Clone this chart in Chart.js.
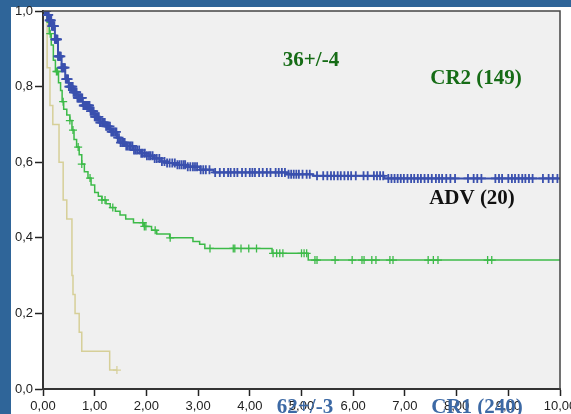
<!DOCTYPE html>
<html>
<head>
<meta charset="utf-8">
<script src="https://cdn.jsdelivr.net/npm/chart.js@4"></script>
<style>
  html, body { margin: 0; padding: 0; background: #fff; }
  #wrap { width: 571px; height: 414px; }
</style>
</head>
<body>
<div id="wrap"><canvas id="km" width="571" height="414"></canvas></div>
<script>
// x ticks (years) and y ticks
var xTicks = [0, 1, 2, 3, 4, 5, 6, 7, 8, 9, 10];
var yTicks = [0, 0.2, 0.4, 0.6, 0.8, 1.0];

// CR1 (240) - step points
var cr1Times = [0, 0.08, 0.12, 0.17, 0.23, 0.29, 0.36, 0.43, 0.5, 0.58, 0.66, 0.77, 0.91, 1.0, 1.1, 1.2, 1.3, 1.43, 1.5, 1.6, 1.74, 1.88, 2.0, 2.13, 2.26, 2.4, 2.6, 2.8, 3.04, 3.3, 4.72, 5.22, 6.6, 10];
var cr1Surv  = [1.0, 0.99, 0.975, 0.96, 0.925, 0.88, 0.85, 0.82, 0.8, 0.785, 0.77, 0.75, 0.735, 0.72, 0.705, 0.695, 0.68, 0.665, 0.652, 0.643, 0.632, 0.624, 0.617, 0.61, 0.602, 0.598, 0.593, 0.588, 0.58, 0.573, 0.568, 0.564, 0.557, 0.557];
var cr1Censored = [0.04, 0.05, 0.06, 0.07, 0.08, 0.09, 0.1, 0.11, 0.12, 0.13, 0.14, 0.15, 0.16, 0.17, 0.18, 0.19, 0.2, 0.21, 0.22, 0.23, 0.24, 0.25, 0.26, 0.27, 0.28, 0.29, 0.3, 0.31, 0.32, 0.33, 0.345, 0.36, 0.37, 0.38, 0.395, 0.41, 0.425, 0.44, 0.455, 0.47, 0.485, 0.5, 0.515, 0.53, 0.545, 0.56, 0.575, 0.59, 0.605, 0.62, 0.635, 0.65, 0.665, 0.68, 0.695, 0.71, 0.725, 0.74, 0.76, 0.78, 0.795, 0.81, 0.83, 0.85, 0.865, 0.88, 0.9, 0.92, 0.94, 0.96, 0.98, 1.0, 1.02, 1.04, 1.06, 1.08, 1.1, 1.12, 1.145, 1.17, 1.195, 1.22, 1.245, 1.27, 1.295, 1.32, 1.345, 1.37, 1.395, 1.42, 1.445, 1.47, 1.5, 1.53, 1.555, 1.58, 1.61, 1.64, 1.67, 1.7, 1.73, 1.76, 1.79, 1.82, 1.86, 1.9, 1.93, 1.97, 2.01, 2.05, 2.08, 2.12, 2.16, 2.2, 2.25, 2.3, 2.35, 2.4, 2.45, 2.5, 2.55, 2.6, 2.64, 2.68, 2.72, 2.75, 2.8, 2.85, 2.9, 2.94, 2.98,
  3.05, 3.1, 3.15, 3.22, 3.33, 3.42, 3.5, 3.58, 3.63, 3.7, 3.76, 3.85, 3.92, 4.0, 4.05, 4.1, 4.18, 4.25, 4.33, 4.4, 4.5, 4.56, 4.62, 4.68, 4.75, 4.8, 4.85, 4.9, 4.95, 5.02, 5.1, 5.16, 5.3, 5.42, 5.5, 5.57, 5.63, 5.7, 5.76, 5.83, 5.9, 5.96, 6.05, 6.2, 6.28, 6.4, 6.46, 6.52, 6.58, 6.68, 6.74, 6.8, 6.86, 6.92, 6.98, 7.05, 7.12, 7.18, 7.25, 7.31, 7.38, 7.45, 7.52, 7.6, 7.66, 7.72, 7.8, 7.88, 7.97, 8.22, 8.33, 8.4, 8.48, 8.75, 8.82, 8.88, 9.0, 9.07, 9.13, 9.2, 9.27, 9.33, 9.4, 9.47, 9.67, 9.78, 9.86, 9.95];

// CR2 (149)
var cr2Times = [0, 0.04, 0.08, 0.12, 0.16, 0.2, 0.24, 0.3, 0.34, 0.37, 0.4, 0.46, 0.52, 0.56, 0.6, 0.65, 0.7, 0.75, 0.8, 0.87, 0.93, 1.0, 1.07, 1.14, 1.22, 1.3, 1.4, 1.49, 1.6, 1.75, 1.95, 2.1, 2.2, 2.45, 2.9, 3.03, 3.13, 4.43, 5.13, 10];
var cr2Surv  = [1.0, 0.99, 0.97, 0.94, 0.91, 0.87, 0.84, 0.81, 0.79, 0.76, 0.74, 0.725, 0.71, 0.685, 0.66, 0.64, 0.62, 0.595, 0.575, 0.558, 0.54, 0.52, 0.51, 0.5, 0.49, 0.48, 0.47, 0.46, 0.45, 0.44, 0.43, 0.42, 0.41, 0.4, 0.39, 0.383, 0.372, 0.359, 0.341, 0.341];
var cr2Censored = [0.14, 0.26, 0.28, 0.39, 0.52, 0.58, 0.68, 0.75, 0.91, 1.14, 1.2, 1.35, 1.93, 1.96, 1.99, 2.17, 2.46, 3.23, 3.68, 3.71, 3.83, 3.98, 4.13, 4.45, 4.52, 4.58, 4.64, 5.0, 5.05, 5.1, 5.26, 5.3, 5.65, 5.98, 6.17, 6.21, 6.36, 6.44, 6.71, 6.77, 7.45, 7.55, 7.64, 8.6, 8.68];

// ADV (20)
var advTimes = [0, 0.08, 0.135, 0.19, 0.31, 0.39, 0.46, 0.56, 0.58, 0.62, 0.7, 0.75, 1.29, 1.43];
var advSurv  = [1.0, 0.85, 0.75, 0.7, 0.6, 0.5, 0.45, 0.3, 0.25, 0.2, 0.15, 0.1, 0.05, 0.05];
var advCensored = [1.43];

var blue = "#3a50ae";
var green = "#3cba48";
var tan = "#d6cf98";

function toPoints(times, surv) {
    var pts = [];
    for (var i = 0; i < times.length; i++) {
        pts.push({ x: times[i], y: surv[i] });
    }
    return pts;
}

// censor marks sit on the step curve at their time
function censorPoints(cens, times, surv) {
    var pts = [];
    for (var i = 0; i < cens.length; i++) {
        var s = surv[0];
        for (var j = 0; j < times.length; j++) {
            if (times[j] <= cens[i]) s = surv[j];
        }
        pts.push({ x: cens[i], y: s });
    }
    return pts;
}

function comma(v, d) {
    return v.toFixed(d).replace(".", ",");
}

var frame = {
    id: "frame",
    beforeDraw: function(chart) {
        var ctx = chart.ctx;
        var a = chart.chartArea;
        ctx.save();
        ctx.fillStyle = "#ffffff";
        ctx.fillRect(0, 0, chart.width, chart.height);
        ctx.fillStyle = "#2f6599";
        ctx.fillRect(0, 0, 11, chart.height);
        ctx.fillRect(0, 0, chart.width, 7);
        ctx.fillStyle = "#f0f0f0";
        ctx.fillRect(a.left, a.top, a.right - a.left, a.bottom - a.top);
        ctx.restore();
    },
    afterDraw: function(chart) {
        var ctx = chart.ctx;
        var a = chart.chartArea;
        ctx.save();
        ctx.strokeStyle = "#444";
        ctx.lineWidth = 1.5;
        ctx.beginPath();
        ctx.moveTo(a.left, a.top);
        ctx.lineTo(a.right, a.top);
        ctx.lineTo(a.right, a.bottom);
        ctx.stroke();

        ctx.font = "bold 21px 'Liberation Serif'";
        ctx.textAlign = "center";
        ctx.textBaseline = "alphabetic";
        ctx.fillStyle = "#166c16";
        ctx.fillText("36+/-4", 311, 66);
        ctx.fillText("CR2 (149)", 476, 84);
        ctx.fillStyle = "#111";
        ctx.fillText("ADV (20)", 472, 204);
        ctx.fillStyle = "#3c69a5";
        ctx.fillText("62+/-3", 305, 413);
        ctx.fillText("CR1 (240)", 477, 413);
        ctx.restore();
    }
};

var ctx = document.getElementById("km").getContext("2d");
new Chart(ctx, {
    type: "line",
    data: {
        datasets: [
            {
                data: toPoints(cr1Times, cr1Surv),
                borderColor: blue, borderWidth: 2, stepped: true,
                pointRadius: 0, fill: false
            },
            {
                data: censorPoints(cr1Censored, cr1Times, cr1Surv),
                showLine: false, pointStyle: "cross", pointRadius: 4.5,
                pointBorderWidth: 1.8, borderColor: blue, pointBorderColor: blue
            },
            {
                data: toPoints(cr2Times, cr2Surv),
                borderColor: green, borderWidth: 1.5, stepped: true,
                pointRadius: 0, fill: false
            },
            {
                data: censorPoints(cr2Censored, cr2Times, cr2Surv),
                showLine: false, pointStyle: "cross", pointRadius: 4,
                pointBorderWidth: 1.3, borderColor: green, pointBorderColor: green
            },
            {
                data: toPoints(advTimes, advSurv),
                borderColor: tan, borderWidth: 1.5, stepped: true,
                pointRadius: 0, fill: false
            },
            {
                data: censorPoints(advCensored, advTimes, advSurv),
                showLine: false, pointStyle: "cross", pointRadius: 4,
                pointBorderWidth: 1.2, borderColor: tan, pointBorderColor: tan
            }
        ]
    },
    options: {
        responsive: false,
        animation: false,
        layout: { padding: { left: 11, top: 11, right: 11, bottom: 0 } },
        plugins: { legend: { display: false }, tooltip: { enabled: false } },
        scales: {
            x: {
                type: "linear", min: 0, max: 10,
                afterBuildTicks: function(s) { s.ticks = xTicks.map(function(v) { return { value: v }; }); },
                afterFit: function(s) { s.height = 25; s.paddingLeft = 0; s.paddingRight = 0; },
                ticks: {
                    callback: function(v) { return comma(v, 2); },
                    font: { family: "'Liberation Sans'", size: 13 },
                    color: "#222", padding: 3, maxRotation: 0, autoSkip: false
                },
                grid: { drawOnChartArea: false, tickLength: 7, tickColor: "#222", tickWidth: 1.5 },
                border: { color: "#333", width: 2 }
            },
            y: {
                min: 0, max: 1,
                afterBuildTicks: function(s) { s.ticks = yTicks.map(function(v) { return { value: v }; }); },
                afterFit: function(s) { s.width = 32; s.paddingTop = 0; s.paddingBottom = 0; },
                ticks: {
                    callback: function(v) { return comma(v, 1); },
                    font: { family: "'Liberation Sans'", size: 13 },
                    color: "#222", padding: 2
                },
                grid: { drawOnChartArea: false, tickLength: 8, tickColor: "#222", tickWidth: 1.5 },
                border: { color: "#333", width: 2 }
            }
        }
    },
    plugins: [frame]
});
</script>
</body>
</html>
